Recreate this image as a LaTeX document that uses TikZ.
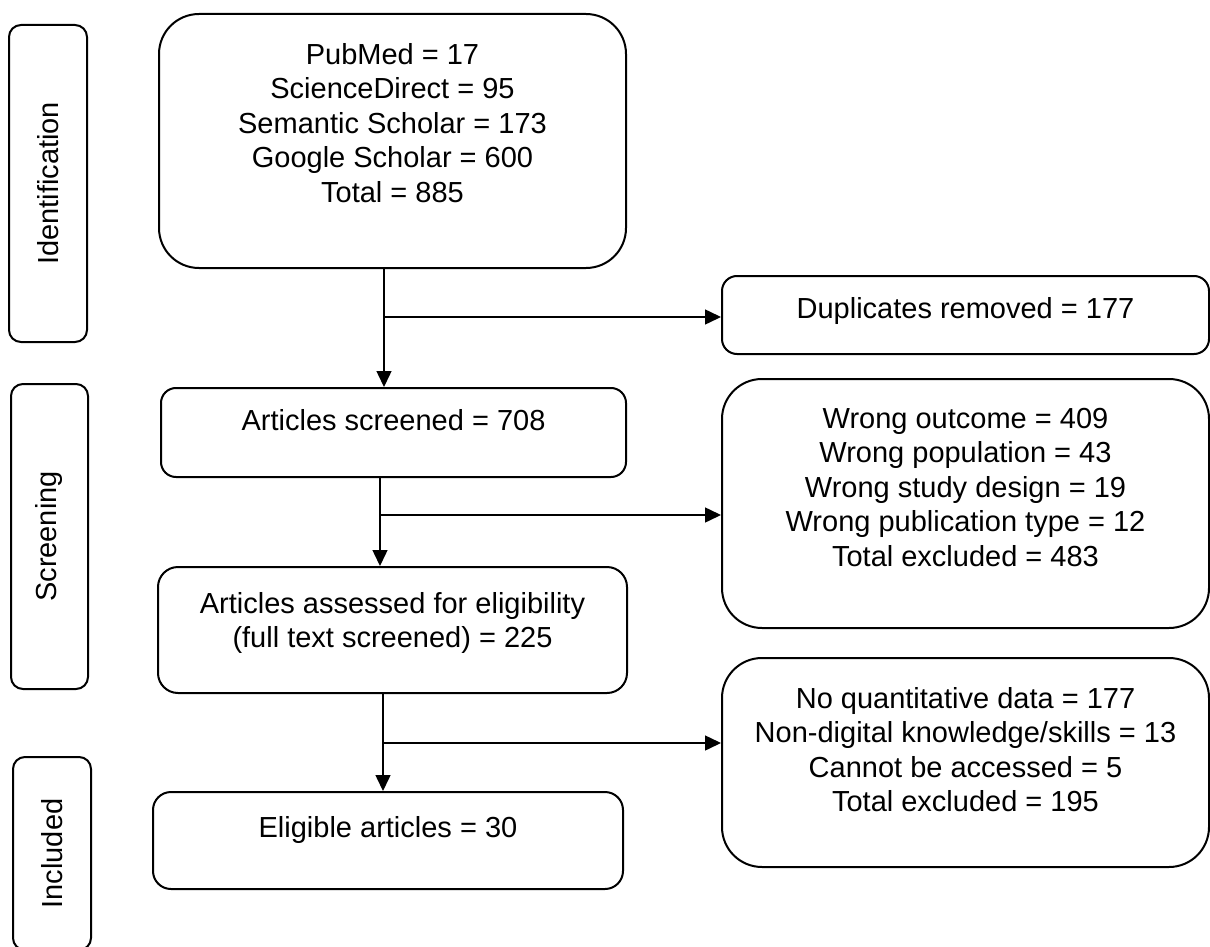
\documentclass[tikz,border=0pt]{standalone}
\usepackage{fontspec}
\setmainfont{Liberation Sans}
\usetikzlibrary{arrows.meta,positioning}
\begin{document}
\begin{tikzpicture}[
                x=1pt, y=-1pt,
                box/.style={draw, line width=2pt, rounded corners=#1},
                box/.default=15pt,
                phase/.style={draw, line width=2pt, rounded corners=12pt, rotate=90,
                    font=\fontsize{29}{34.5}\selectfont},
                txt/.style={inner sep=0pt, align=center, font=\fontsize{29}{34.5}\selectfont},
                arr/.style={line width=1.5pt, -{Triangle[length=16pt,width=15pt]}}
            ]
            \useasboundingbox (0,0) rectangle (1210,947);
            \node[phase, minimum width=317pt, minimum height=78pt] (ident) at (48,183.5) {Identification};
            \node[phase, minimum width=305pt, minimum height=77pt] (screen) at (49.5,536.5) {Screening};
            \node[phase, minimum width=193pt, minimum height=78pt] (incl) at (52,853.5) {Included};

            \node[box=40pt, minimum width=467pt, minimum height=254pt] (src) at (392.5,141) {};
            \node[box, minimum width=487pt, minimum height=78pt] (dup) at (965.5,315) {};
            \node[box, minimum width=465pt, minimum height=89pt] (scr) at (393.5,432.5) {};
            \node[box=40pt, minimum width=487pt, minimum height=249pt] (exone) at (965.5,503.5) {};
            \node[box=20pt, minimum width=469pt, minimum height=126pt] (ass) at (392.5,630) {};
            \node[box=40pt, minimum width=487pt, minimum height=209pt] (extwo) at (965.5,762.5) {};
            \node[box=18pt, minimum width=470pt, minimum height=97pt] (elig) at (388,840.5) {};

            \node[txt, below=30pt of src.north] (srctxt) {PubMed = 17\\ScienceDirect = 95\\Semantic Scholar = 173\\Google Scholar = 600\\Total = 885};
            \node[txt, below=22pt of dup.north] (duptxt) {Duplicates removed = 177};
            \node[txt, below=22pt of scr.north] (scrtxt) {Articles screened = 708};
            \node[txt, below=30pt of exone.north] (exonetxt) {Wrong outcome = 409\\Wrong population = 43\\Wrong study design = 19\\Wrong publication type = 12\\Total excluded = 483};
            \node[txt, below=26pt of ass.north] (asstxt) {Articles assessed for eligibility\\(full text screened) = 225};
            \node[txt, below=30pt of extwo.north] (extwotxt) {No quantitative data = 177\\Non-digital knowledge/skills = 13\\Cannot be accessed = 5\\Total excluded = 195};
            \node[txt, below=25pt of elig.north] (eligtxt) {Eligible articles = 30};

            \coordinate (jone) at (384,317);
            \coordinate (jtwo) at (380,515);
            \coordinate (jthree) at (383,743);
            \draw[arr] (src.south -| jone) -- (scr.north -| jone);
            \draw[arr] (jone) -- (jone -| dup.west);
            \draw[arr] (scr.south -| jtwo) -- (ass.north -| jtwo);
            \draw[arr] (jtwo) -- (jtwo -| exone.west);
            \draw[arr] (ass.south -| jthree) -- (elig.north -| jthree);
            \draw[arr] (jthree) -- (jthree -| extwo.west);
        \end{tikzpicture}
\end{document}
